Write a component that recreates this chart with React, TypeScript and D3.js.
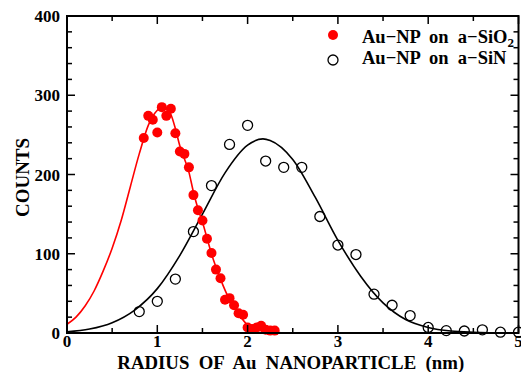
import React from "react";
import * as d3 from "d3";

// Au-NP on a-SiO2 (filled red)
const sio2X = [0.85, 0.9, 0.95, 1.0, 1.05, 1.1, 1.15, 1.2, 1.25, 1.3, 1.35, 1.4, 1.45, 1.5, 1.55, 1.6, 1.65, 1.7, 1.75, 1.8, 1.85, 1.9, 1.95, 2.0, 2.05, 2.1, 2.15, 2.2, 2.25, 2.3];
const sio2Y = [246, 274, 269, 253, 285, 274, 283, 252, 229, 226, 209, 174, 155, 142, 119, 101, 80, 69, 42, 44, 35, 25, 23, 7, 5, 7, 9, 4, 3, 3];

// Au-NP on a-SiN (open black)
const sinX = [0.8, 1.0, 1.2, 1.4, 1.6, 1.8, 2.0, 2.2, 2.4, 2.6, 2.8, 3.0, 3.2, 3.4, 3.6, 3.8, 4.0, 4.2, 4.4, 4.6, 4.8, 5.0];
const sinY = [27, 40, 68, 128, 186, 238, 262, 217, 209, 209, 147, 111, 99, 49, 35, 22, 7, 3, 2.5, 4, 1, 1];

// fitted curves
const sio2FitX = [0, 0.1, 0.2, 0.3, 0.4, 0.5, 0.6, 0.7, 0.8, 0.9, 1.0, 1.05, 1.1, 1.15, 1.2, 1.25, 1.3, 1.35, 1.4, 1.45, 1.5, 1.55, 1.6, 1.7, 1.8, 1.9, 2.0, 2.1, 2.2, 2.3, 2.4, 3.0, 4.0, 5.0];
const sio2FitY = [11, 20, 34, 53, 78, 107, 142, 184, 226, 262, 281, 285, 284, 276, 258, 236, 220, 203, 178, 157, 140, 120, 100, 68, 42, 24, 10, 4, 2, 1, 0, 0, 0, 0];

const sinFitX = [0, 0.25, 0.5, 0.75, 1.0, 1.25, 1.5, 1.75, 2.0, 2.17, 2.25, 2.5, 2.75, 3.0, 3.25, 3.5, 3.75, 4.0, 4.25, 4.5, 5.0];
const sinFitY = [1.5, 5, 13, 29, 56, 98, 150, 202, 237, 245, 243, 219, 171, 117, 72, 38, 17, 7, 2.5, 1, 0];

const xTicks = [0, 1, 2, 3, 4, 5];
const yTicks = [0, 100, 200, 300, 400];
const xTitle = "RADIUS  OF  Au  NANOPARTICLE  (nm)";
const yTitle = "COUNTS";
const legend1 = "Au\u2212NP  on  a\u2212SiO";
const legend2 = "Au\u2212NP  on  a\u2212SiN";

export default function App() {
  const W = 521, H = 372;
  const L = 67, R = 518.5, T = 16, B = 333;
  const x = d3.scaleLinear().domain([0, 5]).range([L, R]);
  const y = d3.scaleLinear().domain([0, 400]).range([B, T]);
  const font = "'Liberation Serif', 'Times New Roman', serif";

  const line = d3.line<[number, number]>().x(d => x(d[0])).y(d => y(d[1])).curve(d3.curveMonotoneX);
  const sio2Fit = line(sio2FitX.map((v, i) => [v, sio2FitY[i]]) as [number, number][]) || "";
  const sinFit = line(sinFitX.map((v, i) => [v, sinFitY[i]]) as [number, number][]) || "";

  const xMinor = d3.range(0, 5.001, 0.5);
  const yMinor = d3.range(0, 400.1, 20);
  const maj = 8, mnr = 5;

  return (
    <svg width={W} height={H} style={{ position: "absolute", left: 0, top: 0 }} fontFamily={font}>
      <rect x={0} y={0} width={W} height={H} fill="white" />
      {/* curves & points */}
      <path d={sinFit} fill="none" stroke="black" strokeWidth={1.6} />
      {sinX.map((v, i) => (
        <circle key={"s" + i} cx={x(v)} cy={y(sinY[i])} r={5} fill="none" stroke="black" strokeWidth={1.3} />
      ))}
      <path d={sio2Fit} fill="none" stroke="#ff0000" strokeWidth={1.6} />
      {sio2X.map((v, i) => (
        <circle key={"r" + i} cx={x(v)} cy={y(sio2Y[i])} r={5} fill="#ff0000" />
      ))}
      {/* frame */}
      <rect x={L} y={T} width={R - L} height={B - T} fill="none" stroke="black" strokeWidth={2} />
      {xMinor.map((v, i) => {
        const isMaj = Math.abs(v - Math.round(v)) < 1e-6;
        const len = isMaj ? maj : mnr;
        return (
          <g key={"xt" + i}>
            <line x1={x(v)} x2={x(v)} y1={B} y2={B - len} stroke="black" strokeWidth={1.5} />
            <line x1={x(v)} x2={x(v)} y1={T} y2={T + len} stroke="black" strokeWidth={1.5} />
          </g>
        );
      })}
      {yMinor.map((v, i) => {
        const isMaj = v % 100 === 0;
        const len = isMaj ? maj : mnr;
        return (
          <g key={"yt" + i}>
            <line x1={L} x2={L + len} y1={y(v)} y2={y(v)} stroke="black" strokeWidth={1.5} />
            <line x1={R} x2={R - len} y1={y(v)} y2={y(v)} stroke="black" strokeWidth={1.5} />
          </g>
        );
      })}
      {xTicks.map(v => (
        <text key={"xl" + v} x={x(v)} y={347} textAnchor="middle" fontSize={17} fontWeight="bold">{v}</text>
      ))}
      {yTicks.map(v => (
        <text key={"yl" + v} x={60} y={y(v) + 6} textAnchor="end" fontSize={17} fontWeight="bold">{v}</text>
      ))}
      <text x={(L + R) / 2 - 2} y={369} textAnchor="middle" fontSize={18.8} fontWeight="bold" style={{ whiteSpace: "pre" }}>{xTitle}</text>
      <text transform={`translate(29,${(T + B) / 2 + 3}) rotate(-90)`} textAnchor="middle" fontSize={19} fontWeight="bold">{yTitle}</text>
      {/* legend */}
      <circle cx={333} cy={35} r={5} fill="#ff0000" />
      <text x={362} y={42.5} fontSize={18.5} fontWeight="bold" style={{ whiteSpace: "pre" }}>
        {legend1}
        <tspan fontSize={13} dy={4}>2</tspan>
      </text>
      <circle cx={333} cy={60} r={5} fill="none" stroke="black" strokeWidth={1.3} />
      <text x={362} y={64} fontSize={18.5} fontWeight="bold" style={{ whiteSpace: "pre" }}>{legend2}</text>
    </svg>
  );
}
